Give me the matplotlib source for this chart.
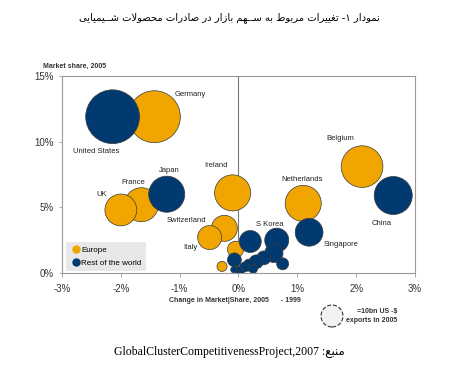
import matplotlib.pyplot as plt
from matplotlib.lines import Line2D

# data: change in share (%), share 2005 (%), exports (bn US$)
europe_names = ["Germany", "France", "UK", "Ireland", "Switzerland", "Italy",
                "Belgium", "Netherlands", "", ""]
europe_change = [-1.43, -1.65, -2.0, -0.1, -0.24, -0.49, 2.1, 1.1, -0.05, -0.28]
europe_share = [11.9, 5.2, 4.8, 6.1, 3.4, 2.7, 8.1, 5.3, 1.8, 0.5]
europe_exports = [56, 24, 21, 27, 14, 12, 36, 27, 5.5, 2.1]

row_names = ["United States", "Japan", "China", "Singapore", "S Korea",
             "", "", "", "", "", "", "", "", "", "", "", ""]
row_change = [-2.14, -1.22, 2.63, 1.2, 0.65,
              0.2, 0.6, 0.75, 0.43, 0.3, 0.18, 0.1, 0.0, -0.08, -0.07, 0.25, 0.05]
row_share = [11.9, 6.0, 5.9, 3.1, 2.5,
             2.4, 1.5, 0.7, 1.15, 0.85, 0.6, 0.45, 0.2, 0.25, 1.0, 0.3, 0.1]
row_exports = [60, 27, 30, 16, 12,
               10, 7, 3, 4, 4, 3, 2, 1.3, 0.8, 4, 1.5, 0.6]

# label offsets in points from bubble centre
label_offsets = {
    "Germany": (26, 16), "United States": (-12, -25), "Japan": (2, 17),
    "France": (-6, 16), "UK": (-14, 11), "Ireland": (-12, 20),
    "Switzerland": (-27, 6), "Italy": (-14, -7), "Belgium": (-16, 20),
    "Netherlands": (-1, 17), "S Korea": (-5, 11), "Singapore": (23, -9),
    "China": (-8, -20),
}

x_ticks = [-3, -2, -1, 0, 1, 2, 3]
y_ticks = [0, 5, 10, 15]
legend_exports = 10

title_fa = "نمودار ۱- تغییرات مربوط به ســهم بازار در صادرات محصولات شــیمیایی"
source_fa = "منبع"
source_en = "GlobalClusterCompetitivenessProject,2007"

# minimal persian shaping (matplotlib has no bidi / joining)
FORMS = {
    'ا': ('\uFE8D', '\uFE8E'), 'د': ('\uFEA9', '\uFEAA'),
    'ر': ('\uFEAD', '\uFEAE'), 'ز': ('\uFEAF', '\uFEB0'),
    'و': ('\uFEED', '\uFEEE'),
    'ب': ('\uFE8F', '\uFE90', '\uFE91', '\uFE92'),
    'ت': ('\uFE95', '\uFE96', '\uFE97', '\uFE98'),
    'ح': ('\uFEA1', '\uFEA2', '\uFEA3', '\uFEA4'),
    'س': ('\uFEB1', '\uFEB2', '\uFEB3', '\uFEB4'),
    'ش': ('\uFEB5', '\uFEB6', '\uFEB7', '\uFEB8'),
    'ص': ('\uFEB9', '\uFEBA', '\uFEBB', '\uFEBC'),
    'ط': ('\uFEC1', '\uFEC2', '\uFEC3', '\uFEC4'),
    'ع': ('\uFEC9', '\uFECA', '\uFECB', '\uFECC'),
    'غ': ('\uFECD', '\uFECE', '\uFECF', '\uFED0'),
    'ل': ('\uFEDD', '\uFEDE', '\uFEDF', '\uFEE0'),
    'م': ('\uFEE1', '\uFEE2', '\uFEE3', '\uFEE4'),
    'ن': ('\uFEE5', '\uFEE6', '\uFEE7', '\uFEE8'),
    'ه': ('\uFEE9', '\uFEEA', '\uFEEB', '\uFEEC'),
    'ی': ('\uFBFC', '\uFBFD', '\uFBFE', '\uFBFF'),
    'ـ': ('\u0640', '\u0640', '\u0640', '\u0640'),
}


def shape(text):
    out = []
    prev_dual = False
    i = 0
    while i < len(text):
        c = text[i]
        if c not in FORMS:
            out.append(c)
            prev_dual = False
            i += 1
            continue
        if c == 'ل' and i + 1 < len(text) and text[i + 1] == 'ا':
            out.append('\uFEFC' if prev_dual else '\uFEFB')
            prev_dual = False
            i += 2
            continue
        f = FORMS[c]
        dual = len(f) == 4
        nxt = text[i + 1] if i + 1 < len(text) else ''
        join_next = dual and nxt in FORMS
        if prev_dual and join_next:
            g = f[3]
        elif prev_dual:
            g = f[1]
        elif join_next:
            g = f[2]
        else:
            g = f[0]
        out.append(g)
        prev_dual = dual
        i += 1
    return ''.join(out)


orange = "#F0A500"
navy = "#003A70"
sans = ["Liberation Sans", "DejaVu Sans"]

fig = plt.figure(figsize=(4.52, 3.82), dpi=100)
ax = fig.add_axes([62 / 452, 1 - 273 / 382, 353 / 452, 197 / 382])

ax.axvline(0, color="#777777", lw=0.8, zorder=1)

for names, xs, ys, ex, col in [
        (europe_names, europe_change, europe_share, europe_exports, orange),
        (row_names, row_change, row_share, row_exports, navy)]:
    ax.scatter(xs, ys, s=[25 * v for v in ex], color=col,
               edgecolor="#3a3a3a", linewidth=0.5, zorder=2)
    for n, x, y in zip(names, xs, ys):
        if n:
            ax.annotate(n, (x, y), xytext=label_offsets[n],
                        textcoords="offset points", ha="center", va="center",
                        fontsize=5.5, color="#222222", family=sans)

ax.set_xlim(-3, 3)
ax.set_ylim(0, 15)
ax.set_xticks(x_ticks)
ax.set_xticklabels([f"{t}%" for t in x_ticks])
ax.set_yticks(y_ticks)
ax.set_yticklabels([f"{t}%" for t in y_ticks])
ax.tick_params(axis="x", colors="#999999", labelcolor="#333333",
               labelsize=7, length=3, width=0.6, pad=5)
ax.tick_params(axis="y", colors="#999999", labelcolor="#333333",
               labelsize=7, length=2, width=0.6, pad=4)
for lab in ax.get_xticklabels() + ax.get_yticklabels():
    lab.set_family(sans)
for sp in ax.spines.values():
    sp.set_color("#999999")
    sp.set_linewidth(0.8)

handles = [Line2D([], [], marker="o", ls="", color=orange, markersize=5),
           Line2D([], [], marker="o", ls="", color=navy, markersize=5)]
leg = ax.legend(handles, ["Europe", "Rest of the world"], loc="lower left",
                bbox_to_anchor=(0.011, 0.008), frameon=True, fancybox=False,
                facecolor="#e8e8e8", edgecolor="none", framealpha=1,
                prop={"family": sans, "size": 5.8}, handletextpad=0.1,
                borderpad=0.6, labelspacing=0.6, handlelength=1.2,
                borderaxespad=0)
leg.set_zorder(5)

fig.text(43 / 452, 1 - 66 / 382, "Market share, 2005", fontsize=5,
         fontweight="bold", color="#333333", family=sans, va="center")
fig.text(235 / 452, 1 - 300 / 382, "Change in Market|Share, 2005      - 1999",
         fontsize=5, fontweight="bold", color="#333333", family=sans,
         ha="center", va="center")

# bubble size key
kax = fig.add_axes([317 / 452, 1 - 331 / 382, 30 / 452, 30 / 382])
kax.scatter([0], [0], s=25 * legend_exports, facecolor="#f2f2f2",
            edgecolor="#333333", linewidth=0.8, linestyle="--")
kax.set_xlim(-1, 1)
kax.set_ylim(-1, 1)
kax.axis("off")
fig.text(397 / 452, 1 - 316 / 382, "=10bn US -$\nexports in 2005", fontsize=5,
         fontweight="bold", color="#333333", family=sans, ha="right",
         va="center", multialignment="right", linespacing=1.2)

fig.text(229 / 452, 1 - 18 / 382, shape(title_fa)[::-1], fontsize=7.2,
         ha="center", va="center", family=["DejaVu Sans"])
fig.text(229 / 452, 1 - 352 / 382,
         source_en + " :" + shape(source_fa)[::-1], fontsize=8.5,
         ha="center", va="center", family=["Liberation Serif", "DejaVu Sans"])

fig.savefig("out.png", dpi=100)
